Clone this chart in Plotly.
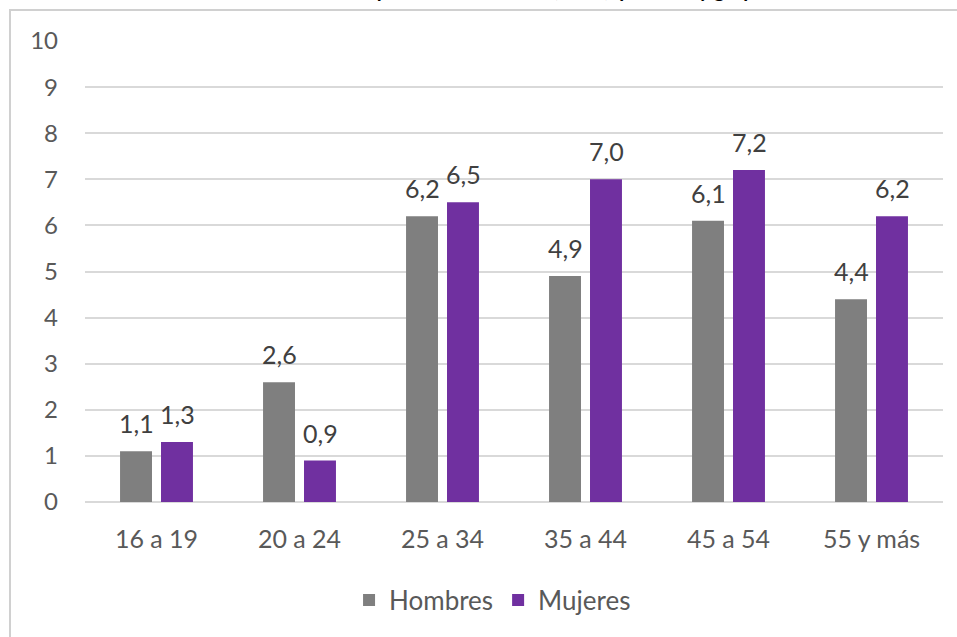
import plotly.graph_objects as go

categories = ["16 a 19", "20 a 24", "25 a 34", "35 a 44", "45 a 54", "55 y más"]
hombres = [1.1, 2.6, 6.2, 4.9, 6.1, 4.4]
mujeres = [1.3, 0.9, 6.5, 7.0, 7.2, 6.2]
y_ticks = list(range(0, 11))

title_text = "Gráfico 3.33: Personas desempleadas en Asturias (miles), por sexo y grupo de edad. 2023"

FONT = "Lato, 'Open Sans', sans-serif"
GRAY = "#7f7f7f"
PURPLE = "#7030a0"

fig = go.Figure()
fig.add_trace(go.Bar(name="Hombres", x=categories, y=hombres, marker=dict(color=GRAY, line=dict(width=0))))
fig.add_trace(go.Bar(name="Mujeres", x=categories, y=mujeres, marker=dict(color=PURPLE, line=dict(width=0))))

annotations = []
for series, shift in ((hombres, -20.5), (mujeres, 20.5)):
    for c, v in zip(categories, series):
        annotations.append(dict(
            x=c, y=v, xref="x", yref="y", xshift=shift, yshift=28,
            text=f"{v:.1f}".replace(".", ","), showarrow=False,
            xanchor="center", yanchor="middle",
            font=dict(family=FONT, size=25, color="#404040"),
        ))

annotations.append(dict(
    x=0.49, y=1.0, xref="paper", yref="paper", yshift=52,
    text="<b>" + title_text + "</b>", showarrow=False,
    xanchor="center", yanchor="middle",
    font=dict(family=FONT, size=20, color="#000000"),
))

fig.update_layout(
    width=957, height=637,
    margin=dict(l=85, r=14, t=41, b=135),
    paper_bgcolor="white", plot_bgcolor="white",
    barmode="group", bargap=0.427, bargroupgap=0.22,
    font=dict(family=FONT, size=24, color="#595959"),
    legend=dict(
        orientation="h", x=0.475, xanchor="center", y=-0.213, yanchor="middle",
        font=dict(family=FONT, size=26, color="#595959"),
        itemwidth=30, traceorder="normal",
    ),
    annotations=annotations,
    shapes=[dict(
        type="rect", xref="paper", yref="paper",
        x0=-0.0874, x1=1.2, y0=-0.5, y1=1.067,
        line=dict(color="#d0d0d0", width=2), layer="below",
    )],
    xaxis=dict(
        showgrid=False, showline=False, zeroline=False,
        ticks="", ticklabelstandoff=20,
        tickfont=dict(family=FONT, size=25, color="#595959"),
    ),
    yaxis=dict(
        range=[0, 10], tickvals=y_ticks, ticktext=[str(t) for t in y_ticks],
        showgrid=True, gridcolor="#d9d9d9", gridwidth=1.5,
        zeroline=True, zerolinecolor="#d9d9d9", zerolinewidth=1.5,
        showline=False, ticks="", ticklabelstandoff=26,
        tickfont=dict(family=FONT, size=24, color="#595959"),
    ),
)

fig.write_html(
    "out.html",
    config={"displayModeBar": False},
    post_script="document.body.style.margin='0';document.body.style.overflow='hidden';",
)
